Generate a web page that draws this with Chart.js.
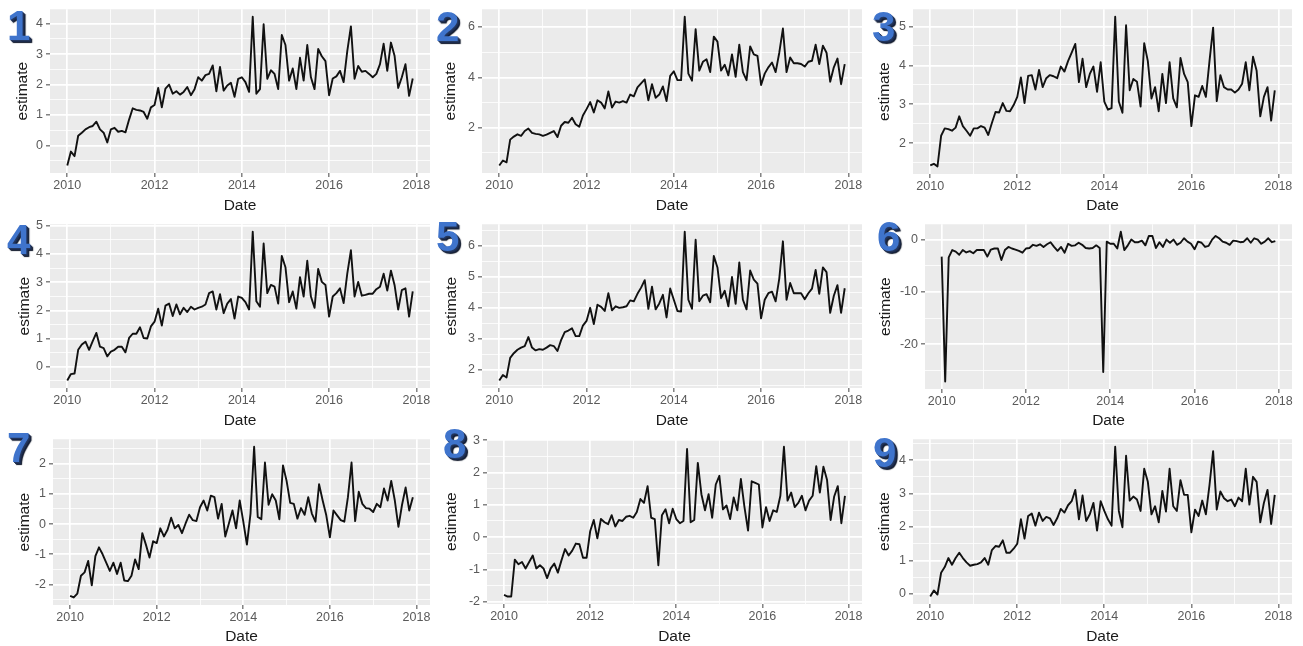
<!DOCTYPE html>
<html>
<head>
<meta charset="utf-8">
<script src="https://cdn.jsdelivr.net/npm/chart.js@4.4.0/dist/chart.umd.min.js"></script>
<style>
html,body{margin:0;padding:0;background:#fff;width:1303px;height:646px;overflow:hidden;}
canvas{position:absolute;display:block;}
.num{position:absolute;font-family:"Liberation Sans",Arial,sans-serif;font-weight:bold;font-size:42px;line-height:42px;color:#3f74cc;
text-shadow:1px 1px 0 #24375e,2px 2px 0 #1c2b4d,3px 3px 1px #0e1628;z-index:5;}
</style>
</head>
<body>
<script>
// ---- data ----
const startYear = 2010;
const nMonths = 96;
const months = Array.from({length: nMonths}, (_, i) => startYear + i / 12);
const xTickLabels = [2010, 2012, 2014, 2016, 2018];

const s1 = [-0.66,-0.2,-0.35,0.32,0.42,0.53,0.6,0.64,0.78,0.53,0.42,0.1,
0.53,0.58,0.45,0.48,0.43,0.85,1.22,1.17,1.15,1.1,0.88,1.25,
1.33,1.89,1.25,1.87,2.0,1.7,1.78,1.67,1.76,1.92,1.65,1.85,
2.24,2.13,2.31,2.35,2.63,1.78,2.58,1.8,1.97,2.06,1.6,2.19,
2.24,2.08,1.76,4.23,1.7,1.85,3.98,2.19,2.47,2.35,1.85,3.63,
3.3,2.13,2.53,1.85,2.88,2.13,3.3,2.24,1.85,3.17,2.93,2.77,
1.65,2.2,2.27,2.45,2.08,3.1,3.91,2.19,2.61,2.42,2.45,2.35,
2.24,2.35,2.67,3.34,2.45,3.38,2.95,1.89,2.24,2.67,1.63,2.2];

const s2 = [0.5,0.7,0.63,1.53,1.65,1.74,1.68,1.87,1.97,1.8,1.76,1.74,
1.68,1.73,1.8,1.87,1.63,2.08,2.23,2.2,2.4,2.14,2.04,2.49,
2.74,3.02,2.61,3.09,3.0,2.77,3.44,2.8,3.04,3.0,3.06,3.0,
3.32,3.25,3.6,3.76,3.92,3.09,3.73,3.19,3.32,3.64,3.06,4.06,
4.24,3.89,3.89,6.41,4.15,3.87,5.91,4.27,4.62,4.72,4.21,5.62,
5.42,4.27,4.5,4.08,4.91,4.02,5.3,4.21,3.89,5.23,4.91,4.85,
3.7,4.15,4.4,4.59,4.21,4.98,5.94,4.21,4.79,4.56,4.56,4.53,
4.43,4.62,4.66,5.3,4.53,5.26,4.98,3.83,4.4,4.75,3.73,4.53];

const s3 = [1.43,1.47,1.4,2.19,2.38,2.36,2.32,2.4,2.69,2.44,2.32,2.19,
2.38,2.38,2.44,2.4,2.21,2.52,2.8,2.79,3.03,2.83,2.82,2.98,
3.19,3.69,3.03,3.73,3.75,3.38,3.88,3.44,3.67,3.75,3.72,3.67,
3.97,3.84,4.11,4.33,4.55,3.57,4.17,3.44,3.78,3.97,3.32,4.08,
3.07,2.86,2.9,5.25,3.07,2.78,5.03,3.36,3.65,3.58,2.94,4.57,
4.11,3.15,3.44,2.82,3.78,3.03,4.08,3.15,2.92,4.19,3.78,3.57,
2.44,3.23,3.19,3.47,3.19,4.11,4.97,3.08,3.75,3.44,3.38,3.38,
3.3,3.38,3.53,4.08,3.36,4.22,3.86,2.69,3.19,3.44,2.58,3.36];

const s4 = [-0.49,-0.26,-0.24,0.6,0.79,0.89,0.6,0.91,1.2,0.71,0.66,0.37,
0.54,0.6,0.71,0.71,0.51,1.02,1.17,1.17,1.4,1.02,1.0,1.43,
1.6,2.06,1.46,2.17,2.24,1.8,2.21,1.86,2.09,1.94,2.13,2.03,
2.09,2.13,2.21,2.61,2.67,2.03,2.57,1.9,2.24,2.4,1.71,2.49,
2.44,2.29,2.03,4.79,2.32,2.13,4.37,2.61,2.9,2.84,2.24,3.93,
3.53,2.29,2.67,2.06,3.18,2.49,3.76,2.49,2.09,3.47,3.01,2.9,
1.78,2.49,2.61,2.78,2.26,3.3,4.13,2.49,3.01,2.52,2.55,2.59,
2.59,2.75,2.84,3.3,2.7,3.41,2.9,2.03,2.72,2.78,1.78,2.67];

const s5 = [1.66,1.84,1.76,2.39,2.54,2.65,2.72,2.77,3.06,2.72,2.63,2.67,
2.65,2.72,2.8,2.77,2.61,2.96,3.22,3.27,3.34,3.09,3.09,3.43,
3.58,4.0,3.48,4.1,4.03,3.9,4.47,3.92,4.05,4.0,4.02,4.05,
4.24,4.21,4.45,4.65,4.89,3.97,4.68,3.95,4.14,4.42,3.69,4.62,
4.26,3.9,3.88,6.45,4.26,3.97,6.19,4.21,4.39,4.44,4.18,5.67,
5.3,4.31,4.55,4.05,4.99,4.13,5.46,4.26,3.95,5.2,4.91,4.78,
3.66,4.26,4.47,4.52,4.21,4.94,6.14,4.26,4.8,4.47,4.47,4.47,
4.28,4.47,4.62,5.22,4.45,5.3,5.15,3.84,4.39,4.73,3.84,4.63];

const s6 = [-3.25,-27.1,-3.4,-2.0,-2.3,-2.9,-2.0,-2.45,-2.2,-2.6,-2.0,-2.0,
-2.0,-3.25,-1.9,-1.7,-1.7,-3.9,-2.0,-1.4,-1.7,-1.9,-2.15,-2.5,
-1.7,-1.6,-1.0,-1.2,-0.9,-1.4,-0.9,-0.5,-1.4,-2.15,-1.4,-2.5,
-0.8,-1.2,-1.1,-0.6,-1.0,-1.6,-1.7,-1.6,-1.1,-1.6,-25.3,-0.4,
-0.8,-0.8,-1.7,1.5,-2.0,-1.1,0.0,-0.5,-0.5,-0.2,-1.1,0.7,
0.7,-1.6,-0.5,-1.4,0.0,-0.6,0.0,-1.0,-0.6,0.25,-0.4,-0.8,
-1.85,-0.4,-0.6,-1.4,-1.2,0.0,0.7,0.25,-0.4,-0.6,-1.0,-0.2,
-0.3,-0.5,-0.4,0.25,-0.6,0.25,0.0,-0.8,-0.4,0.25,-0.5,-0.3];

const s7 = [-2.38,-2.43,-2.3,-1.71,-1.6,-1.22,-2.03,-1.06,-0.77,-1.0,-1.28,-1.55,
-1.28,-1.65,-1.28,-1.87,-1.89,-1.71,-1.17,-1.49,-0.3,-0.68,-1.11,-0.57,
-0.63,-0.14,-0.41,-0.19,0.21,-0.14,-0.03,-0.3,0.02,0.31,0.13,0.1,
0.56,0.78,0.45,0.94,0.89,0.18,0.67,-0.41,0.02,0.45,-0.14,0.78,
0.08,-0.68,0.35,2.56,0.24,0.16,2.04,0.64,0.99,0.78,0.16,1.94,
1.43,0.7,0.67,0.18,0.53,0.31,0.89,0.35,0.08,1.32,0.78,0.29,
-0.44,0.45,0.29,0.13,0.08,0.89,2.04,0.1,1.07,0.67,0.53,0.51,
0.4,0.67,0.56,1.18,0.78,1.43,0.78,-0.09,0.64,1.21,0.45,0.89];

const s8 = [-1.79,-1.84,-1.84,-0.7,-0.84,-0.77,-0.97,-0.77,-0.57,-0.97,-0.87,-0.97,
-1.27,-0.97,-0.82,-1.1,-0.72,-0.37,-0.57,-0.42,-0.2,-0.22,-0.64,-0.64,
0.18,0.53,-0.04,0.56,0.46,0.4,0.68,0.33,0.53,0.5,0.63,0.66,
0.6,0.78,1.18,1.06,1.58,0.6,0.56,-0.87,0.68,0.86,0.43,0.88,
0.56,0.43,0.5,2.73,0.46,0.53,2.3,1.33,0.83,1.33,0.6,1.63,
1.9,0.86,0.98,0.56,1.23,0.83,1.8,0.93,0.2,1.73,1.68,1.63,
0.3,0.93,0.5,0.83,0.78,1.28,2.8,1.13,1.38,0.93,1.06,1.28,
0.83,1.13,1.28,2.2,1.38,2.18,1.78,0.53,1.26,1.58,0.43,1.28];

const s9 = [-0.08,0.1,-0.02,0.63,0.8,1.07,0.87,1.07,1.23,1.07,0.94,0.84,
0.87,0.89,0.94,1.07,0.87,1.31,1.43,1.41,1.6,1.23,1.23,1.35,
1.5,2.23,1.65,2.33,2.4,2.04,2.43,2.18,2.3,2.26,2.06,2.26,
2.54,2.43,2.65,2.77,3.11,2.23,2.94,2.18,2.38,2.72,1.89,2.77,
2.48,2.23,2.04,4.4,2.48,1.99,4.13,2.79,2.91,2.82,2.48,3.74,
3.35,2.38,2.62,2.14,3.08,2.46,3.74,2.62,2.48,3.4,2.96,2.96,
1.84,2.52,2.33,2.79,2.38,3.25,4.27,2.52,3.06,2.86,2.77,2.82,
2.62,2.88,2.77,3.74,2.67,3.5,3.35,2.14,2.72,3.11,2.09,2.96];

const y1Ticks = [0, 1, 2, 3, 4];
const y2Ticks = [2, 4, 6];
const y3Ticks = [2, 3, 4, 5];
const y4Ticks = [0, 1, 2, 3, 4, 5];
const y5Ticks = [2, 3, 4, 5, 6];
const y6Ticks = [-20, -10, 0];
const y7Ticks = [-2, -1, 0, 1, 2];
const y8Ticks = [-2, -1, 0, 1, 2, 3];
const y9Ticks = [0, 1, 2, 3, 4];

const panelLabels = ['1','2','3','4','5','6','7','8','9'];
const xTitle = 'Date';
const yTitle = 'estimate';

// ---- layout (plot-area positions inside each cell) ----
const cellX = [0, 434, 868], cellW = [434, 434, 435];
const cellY = [0, 215, 430], cellH = [215, 215, 216];
const panels = [
  {data: s1, yt: y1Ticks, L: 50, R: 430, T: 5, B: 173, tp: 13.7, nx: 7, ny: 5},
  {data: s2, yt: y2Ticks, L: 48, R: 428, T: 5, B: 173, tp: 7.4, nx: 436, ny: 6},
  {data: s3, yt: y3Ticks, L: 45, R: 424, T: 5, B: 174, tp: 7.4, nx: 872, ny: 6},
  {data: s4, yt: y4Ticks, L: 50, R: 430, T: 5, B: 173, tp: 15.2, nx: 7, ny: 219},
  {data: s5, yt: y5Ticks, L: 48, R: 428, T: 5, B: 173, tp: 8.2, nx: 436, ny: 216},
  {data: s6, yt: y6Ticks, L: 57, R: 424, T: 5, B: 174, tp: 8.2, nx: 877, ny: 216},
  {data: s7, yt: y7Ticks, L: 53, R: 430, T: 7, B: 175, tp: 15.2, nx: 7, ny: 427},
  {data: s8, yt: y8Ticks, L: 53, R: 428, T: 6, B: 174, tp: 8.2, nx: 443, ny: 423},
  {data: s9, yt: y9Ticks, L: 45, R: 424, T: 7, B: 174, tp: 7.7, nx: 873, ny: 432}
];

const FONT = '"Liberation Sans", Arial, Helvetica, sans-serif';
const r3 = v => Math.round(v * 1000) / 1000;

const bgPlugin = {
  id: 'panelBg',
  beforeDraw(chart) {
    const a = chart.chartArea, ctx = chart.ctx;
    ctx.save();
    ctx.fillStyle = '#EBEBEB';
    ctx.fillRect(a.left, a.top, a.right - a.left, a.bottom - a.top);
    ctx.restore();
  }
};

function expand(arr) {
  const mn = Math.min(...arr), mx = Math.max(...arr), d = (mx - mn) * 0.05;
  return [mn - d, mx + d];
}

panels.forEach((p, k) => {
  const col = k % 3, row = Math.floor(k / 3);
  const W = cellW[col], H = cellH[row];
  const cv = document.createElement('canvas');
  cv.width = W; cv.height = H;
  cv.style.left = cellX[col] + 'px'; cv.style.top = cellY[row] + 'px';
  cv.style.width = W + 'px'; cv.style.height = H + 'px';
  document.body.appendChild(cv);

  const num = document.createElement('div');
  num.className = 'num';
  num.textContent = panelLabels[k];
  num.style.left = p.nx + 'px'; num.style.top = p.ny + 'px';
  document.body.appendChild(num);

  const [xmin, xmax] = expand(months);
  const [ymin, ymax] = expand(p.data);
  const ystep = p.yt[1] - p.yt[0];
  const yMajor = new Set(p.yt.map(r3));
  const xMajor = new Set(xTickLabels);

  const isYMajor = ctx => ctx.tick && yMajor.has(r3(ctx.tick.value));
  const isXMajor = ctx => ctx.tick && xMajor.has(r3(ctx.tick.value));

  new Chart(cv, {
    type: 'line',
    data: {
      datasets: [{
        data: months.map((m, i) => ({x: m, y: p.data[i]})),
        borderColor: '#111111',
        borderWidth: 1.9,
        borderJoinStyle: 'round',
        pointRadius: 0,
        tension: 0,
        fill: false
      }]
    },
    options: {
      responsive: false,
      animation: false,
      devicePixelRatio: 1,
      layout: {padding: {top: p.T, right: W - p.R, left: 0, bottom: 0}},
      plugins: {legend: {display: false}, tooltip: {enabled: false}},
      scales: {
        x: {
          type: 'linear',
          min: xmin, max: xmax,
          afterFit: s => { s.height = H - p.B; },
          afterBuildTicks: s => {
            const t = [];
            for (let y = Math.ceil(s.min); y <= Math.floor(s.max); y++) t.push({value: y});
            s.ticks = t;
          },
          ticks: {
            autoSkip: false, maxRotation: 0, minRotation: 0,
            color: '#5a5a5a', padding: 2,
            font: {family: FONT, size: 12.5, lineHeight: 1},
            callback: v => xMajor.has(r3(v)) ? String(v) : ''
          },
          grid: {
            color: '#ffffff',
            lineWidth: ctx => isXMajor(ctx) ? 1.7 : 0.8,
            tickLength: 4,
            tickWidth: 1,
            tickColor: ctx => isXMajor(ctx) ? '#444444' : 'rgba(0,0,0,0)'
          },
          border: {display: false},
          title: {display: true, text: xTitle, color: '#1a1a1a',
                  font: {family: FONT, size: 15.5, lineHeight: 1.2}, padding: {top: 0, bottom: 0}}
        },
        y: {
          type: 'linear',
          min: ymin, max: ymax,
          afterFit: s => { s.width = p.L; },
          afterBuildTicks: s => {
            const t = [];
            const half = ystep / 2;
            for (let v = p.yt[0] - ystep; v <= p.yt[p.yt.length - 1] + ystep + 1e-9; v += half) {
              const vv = r3(v);
              if (vv >= s.min && vv <= s.max) t.push({value: vv});
            }
            s.ticks = t;
          },
          ticks: {
            autoSkip: false,
            color: '#5a5a5a', padding: 3,
            font: {family: FONT, size: 12.5, lineHeight: 1},
            callback: v => yMajor.has(r3(v)) ? String(v) : ''
          },
          grid: {
            color: '#ffffff',
            lineWidth: ctx => isYMajor(ctx) ? 1.7 : 0.8,
            tickLength: 4,
            tickWidth: 1,
            tickColor: ctx => isYMajor(ctx) ? '#444444' : 'rgba(0,0,0,0)'
          },
          border: {display: false},
          title: {display: true, text: yTitle, color: '#1a1a1a',
                  font: {family: FONT, size: 15.5, lineHeight: 1.2}, padding: {top: p.tp, bottom: 0}}
        }
      }
    },
    plugins: [bgPlugin]
  });
});
</script>
</body>
</html>
